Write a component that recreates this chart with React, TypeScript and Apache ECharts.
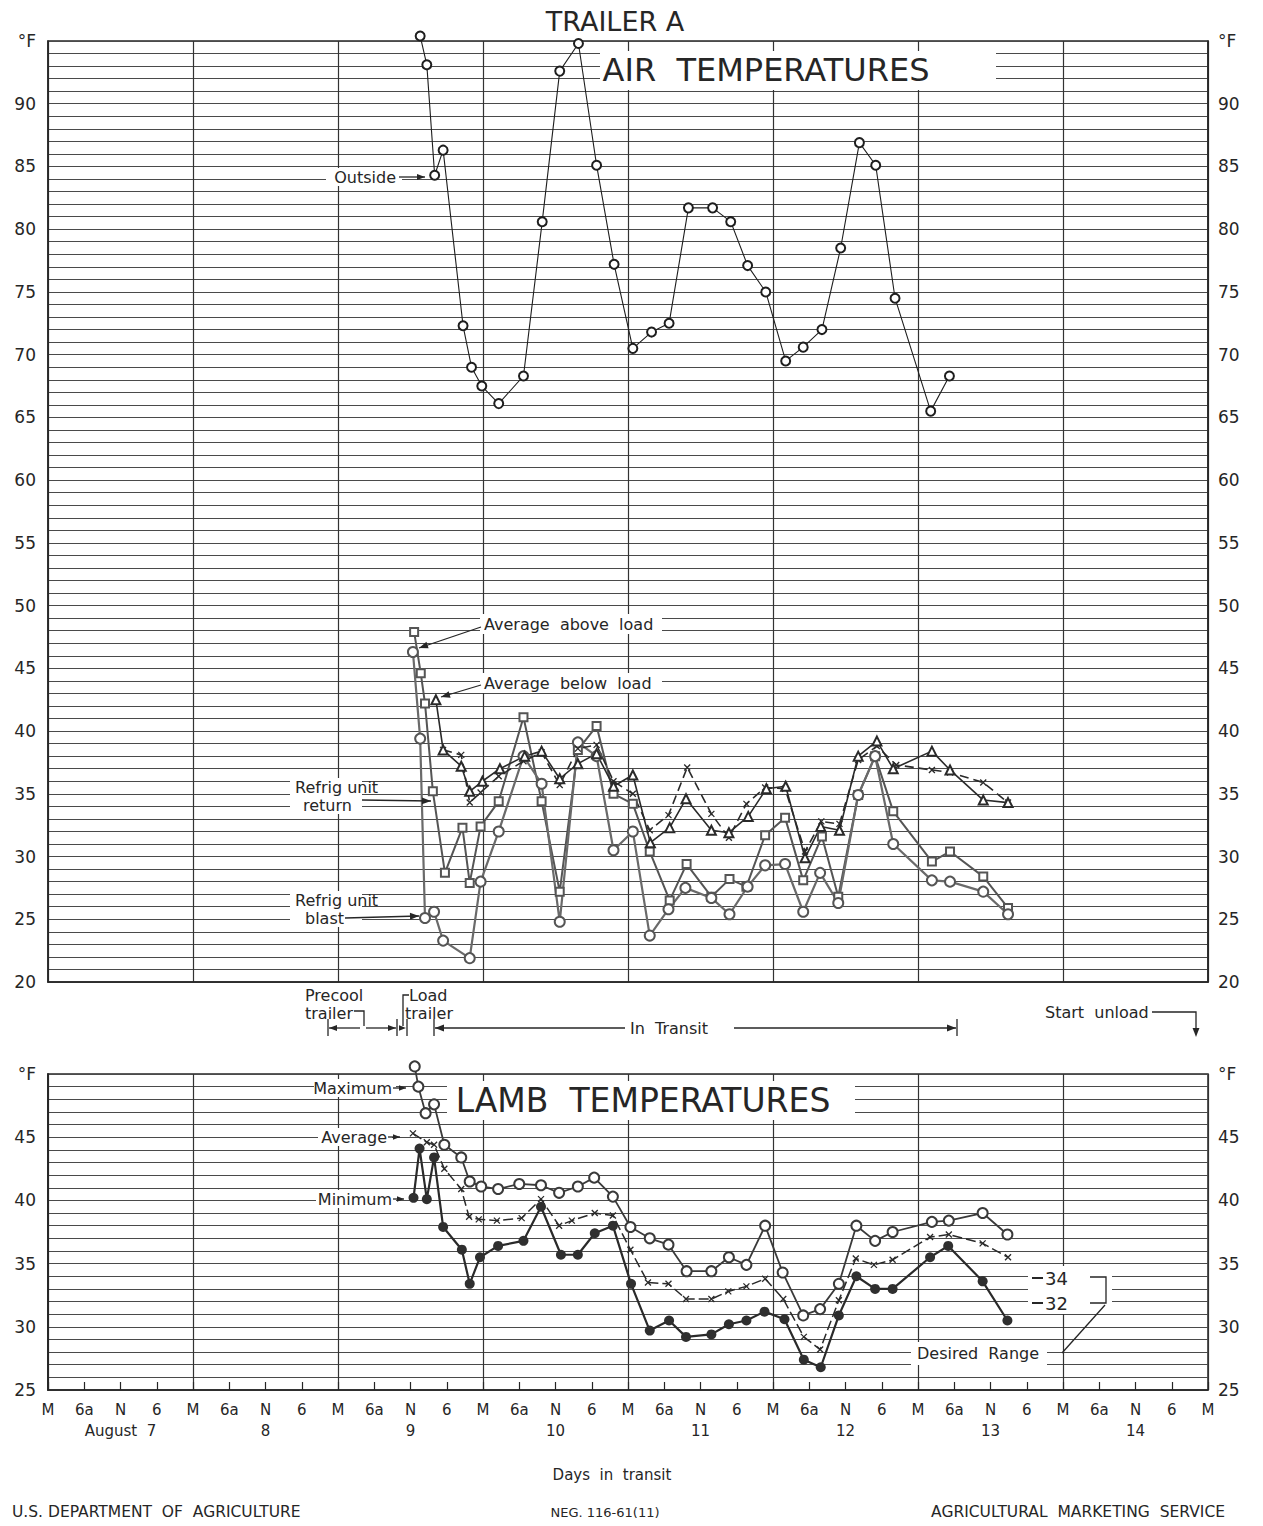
import React, { useEffect, useRef } from "react";
import * as echarts from "echarts";

const FONT = '"DejaVu Sans", "Liberation Sans", sans-serif';
const INK = "#262626";

// Hour-of-day tick labels (every 6 h) and the day names written under noon
const hourLabels = ["M", "6a", "N", "6"];
const dayLabels = ["August  7", "8", "9", "10", "11", "12", "13", "14"];

// All points: [hours after midnight starting August 7, temperature °F]
const outsideAir = [
  [61.6, 95.4], [62.7, 93.1], [64.0, 84.3], [65.4, 86.3], [68.7, 72.3], [70.1, 69.0],
  [71.8, 67.5], [74.6, 66.1], [78.7, 68.3], [81.8, 80.6], [84.7, 92.6], [87.8, 94.8],
  [90.8, 85.1], [93.7, 77.2], [96.8, 70.5], [99.9, 71.8], [102.8, 72.5], [106.0, 81.7],
  [110.0, 81.7], [113.0, 80.6], [115.8, 77.1], [118.8, 75.0], [122.1, 69.5], [125.0, 70.6],
  [128.1, 72.0], [131.2, 78.5], [134.3, 86.9], [137.0, 85.1], [140.2, 74.5], [146.1, 65.5],
  [149.2, 68.3],
];

const avgAboveLoad = [
  [65.4, 38.5], [68.4, 38.1], [69.8, 34.3], [71.6, 35.1], [74.6, 36.4], [78.7, 37.6],
  [81.7, 38.3], [84.7, 35.7], [87.7, 38.6], [90.8, 38.9], [93.6, 36.0], [96.8, 35.0],
  [99.6, 32.1], [102.7, 33.3], [105.8, 37.1], [109.8, 33.4], [112.7, 31.5], [115.6, 34.2],
  [118.7, 35.5], [122.0, 35.4], [125.3, 30.4], [128.0, 32.8], [131.0, 32.6], [134.1, 37.7],
  [137.2, 38.8], [140.4, 37.3], [146.3, 36.9], [149.3, 36.7], [154.8, 35.9], [158.9, 34.3],
];

const avgBelowLoad = [
  [64.2, 42.5], [65.4, 38.5], [68.4, 37.2], [69.8, 35.2], [71.9, 36.0], [74.8, 37.0],
  [78.9, 38.0], [81.7, 38.4], [84.7, 36.2], [87.7, 37.4], [90.8, 38.2], [93.6, 35.6],
  [96.8, 36.5], [99.7, 31.1], [102.9, 32.3], [105.6, 34.6], [109.8, 32.1], [112.7, 31.9],
  [115.9, 33.2], [118.9, 35.4], [122.1, 35.6], [125.3, 29.9], [127.9, 32.4], [131.0, 32.1],
  [134.1, 38.0], [137.2, 39.2], [139.9, 37.0], [146.3, 38.4], [149.3, 36.9], [154.8, 34.5],
  [158.9, 34.3],
];

const refrigReturn = [
  [60.6, 47.9], [61.7, 44.6], [62.4, 42.2], [63.7, 35.2], [65.7, 28.7], [68.6, 32.3],
  [69.8, 27.9], [71.6, 32.4], [74.6, 34.4], [78.7, 41.1], [81.7, 34.4], [84.7, 27.2],
  [87.7, 38.5], [90.8, 40.4], [93.6, 35.0], [96.8, 34.2], [99.6, 30.4], [102.9, 26.5],
  [105.7, 29.4], [109.8, 26.8], [112.8, 28.2], [115.6, 27.6], [118.7, 31.7], [122.0, 33.1],
  [125.0, 28.1], [128.1, 31.6], [130.8, 26.8], [134.1, 34.9], [136.9, 38.0], [139.9, 33.6],
  [146.3, 29.6], [149.3, 30.4], [154.8, 28.4], [158.9, 25.9],
];

const refrigBlast = [
  [60.4, 46.3], [61.6, 39.4], [62.4, 25.1], [63.9, 25.6], [65.4, 23.3], [69.8, 21.9],
  [71.6, 28.0], [74.6, 32.0], [78.7, 38.0], [81.7, 35.8], [84.7, 24.8], [87.7, 39.1],
  [90.8, 38.0], [93.6, 30.5], [96.8, 32.0], [99.6, 23.7], [102.7, 25.8], [105.5, 27.5],
  [109.8, 26.7], [112.8, 25.4], [115.8, 27.6], [118.7, 29.3], [122.0, 29.4], [125.0, 25.6],
  [127.8, 28.7], [130.8, 26.3], [134.1, 34.9], [136.9, 38.0], [139.9, 31.0], [146.3, 28.1],
  [149.3, 28.0], [154.8, 27.2], [158.9, 25.4],
];

const lambMaximum = [
  [60.7, 50.6], [61.3, 49.0], [62.5, 46.9], [63.9, 47.6], [65.6, 44.4], [68.4, 43.4],
  [69.8, 41.5], [71.7, 41.1], [74.5, 40.9], [78.0, 41.3], [81.6, 41.2], [84.6, 40.6],
  [87.7, 41.1], [90.4, 41.8], [93.5, 40.3], [96.4, 37.9], [99.6, 37.0], [102.7, 36.5],
  [105.7, 34.4], [109.8, 34.4], [112.7, 35.5], [115.6, 34.9], [118.7, 38.0], [121.6, 34.3],
  [125.0, 30.9], [127.8, 31.4], [130.9, 33.4], [133.8, 38.0], [136.9, 36.8], [139.8, 37.5],
  [146.3, 38.3], [149.1, 38.4], [154.7, 39.0], [158.8, 37.3],
];

const lambAverage = [
  [60.4, 45.3], [62.7, 44.6], [63.9, 44.4], [65.6, 42.5], [68.4, 40.9], [69.7, 38.7],
  [71.3, 38.5], [74.3, 38.4], [78.4, 38.6], [81.6, 40.1], [84.6, 38.0], [86.7, 38.4],
  [90.5, 39.0], [93.5, 38.8], [96.4, 36.1], [99.3, 33.5], [102.7, 33.4], [105.6, 32.2],
  [109.8, 32.2], [112.6, 32.8], [115.6, 33.2], [118.7, 33.8], [121.7, 32.2], [125.1, 29.2],
  [127.8, 28.2], [130.9, 32.1], [133.7, 35.4], [136.7, 34.9], [139.8, 35.3], [146.0, 37.1],
  [149.1, 37.3], [154.7, 36.6], [158.9, 35.5],
];

const lambMinimum = [
  [60.5, 40.2], [61.5, 44.1], [62.7, 40.1], [63.9, 43.4], [65.4, 37.9], [68.5, 36.1],
  [69.8, 33.4], [71.5, 35.5], [74.5, 36.4], [78.7, 36.8], [81.6, 39.5], [84.9, 35.7],
  [87.7, 35.7], [90.5, 37.4], [93.5, 38.0], [96.5, 33.4], [99.6, 29.7], [102.8, 30.5],
  [105.6, 29.2], [109.8, 29.4], [112.7, 30.2], [115.6, 30.5], [118.6, 31.2], [121.9, 30.6],
  [125.1, 27.4], [127.9, 26.8], [130.9, 30.9], [133.8, 34.0], [136.9, 33.0], [139.8, 33.0],
  [146.0, 35.5], [149.0, 36.4], [154.7, 33.6], [158.8, 30.5],
];

const desiredRange = [34, 32];

const CROSS = "path://M0 0L10 10M10 0L0 10";

type El = Record<string, unknown>;

function text(str: string, x: number, y: number, size = 16, align = "left"): El {
  return {
    type: "text",
    z: 100,
    x,
    y,
    style: {
      text: str,
      font: `${size}px ${FONT}`,
      fill: INK,
      textAlign: align,
      textVerticalAlign: "middle",
    },
  };
}

function blank(x: number, y: number, width: number, height: number): El {
  return { type: "rect", z: 90, shape: { x, y, width, height }, style: { fill: "#fff" } };
}

function seg(x1: number, y1: number, x2: number, y2: number, w = 1.3): El {
  return { type: "line", z: 100, shape: { x1, y1, x2, y2 }, style: { stroke: INK, lineWidth: w } };
}

function poly(points: number[][]): El {
  return { type: "polyline", z: 100, shape: { points }, style: { stroke: INK, lineWidth: 1.3, fill: null } };
}

function head(x1: number, y1: number, x2: number, y2: number, size = 8): El[] {
  const a = Math.atan2(y2 - y1, x2 - x1);
  const bx = x2 - size * Math.cos(a);
  const by = y2 - size * Math.sin(a);
  const w = size * 0.38;
  const px = -Math.sin(a) * w;
  const py = Math.cos(a) * w;
  return [
    {
      type: "polygon",
      z: 100,
      shape: { points: [[x2, y2], [bx + px, by + py], [bx - px, by - py]] },
      style: { fill: INK },
    },
  ];
}

function arrow(x1: number, y1: number, x2: number, y2: number, size = 8): El[] {
  return [seg(x1, y1, x2, y2), ...head(x1, y1, x2, y2, size)];
}

function yLabel(top: number) {
  return (v: number) => (v === top ? "°F" : v % 5 === 0 ? String(v) : "");
}

function yAxisPair(grid: number, min: number, max: number) {
  const common = {
    gridIndex: grid,
    type: "value",
    min,
    max,
    interval: 1,
    axisLine: { show: true, lineStyle: { color: INK, width: 1.5 } },
    axisTick: { show: false },
  };
  return [
    {
      ...common,
      position: "left",
      axisLabel: { formatter: yLabel(max), margin: 12, fontSize: 17, fontFamily: FONT, color: INK, showMaxLabel: true, showMinLabel: true },
      splitLine: { show: true, lineStyle: { color: "#4a4a4a", width: 1.1 } },
    },
    {
      ...common,
      position: "right",
      axisLabel: { formatter: yLabel(max), margin: 10, fontSize: 17, fontFamily: FONT, color: INK, showMaxLabel: true, showMinLabel: true },
      splitLine: { show: false },
    },
  ];
}

function lineSeries(name: string, data: number[][], x: number, y: number, opts: Record<string, unknown>) {
  return {
    name,
    type: "line",
    xAxisIndex: x,
    yAxisIndex: y,
    data,
    clip: false,
    showAllSymbol: true,
    z: 5,
    ...opts,
  };
}

function buildOption() {
  const graphics: El[] = [
    // titles
    text("TRAILER A", 615, 21, 27, "center"),
    blank(600, 51, 396, 39),
    text("AIR  TEMPERATURES", 766, 70, 32, "center"),
    blank(447, 1081, 408, 39),
    text("LAMB  TEMPERATURES", 643, 1100, 33, "center"),

    // air panel callouts
    blank(326, 168, 76, 18),
    text("Outside", 396, 177, 16, "right"),
    ...arrow(399, 177, 425, 177, 8),
    blank(480, 614, 182, 20),
    text("Average  above  load", 484, 624, 16),
    ...arrow(481, 627, 419, 648, 9),
    blank(480, 673, 182, 20),
    text("Average  below  load", 484, 683, 16),
    ...arrow(481, 685, 441, 697, 9),
    blank(290, 778, 72, 36),
    text("Refrig unit", 295, 787, 16),
    text("return", 303, 805, 16),
    ...arrow(362, 800, 431, 801, 9),
    blank(290, 891, 72, 36),
    text("Refrig unit", 295, 900, 16),
    text("blast", 305, 918, 16),
    ...arrow(345, 918, 419, 916, 9),

    // operating periods between panels
    text("Precool", 305, 995, 16),
    text("trailer", 305, 1013, 16),
    poly([[354, 1011], [364, 1011], [364, 1026]]),
    seg(328, 1019, 328, 1036),
    seg(397, 1019, 397, 1036),
    seg(407, 1019, 407, 1036),
    ...arrow(360, 1028, 329, 1028, 8),
    ...arrow(366, 1028, 396, 1028, 8),
    ...head(398, 1028, 406, 1028, 7),
    text("Load", 409, 995, 16),
    text("trailer", 405, 1013, 16),
    poly([[409, 995], [403, 995], [403, 1026]]),
    seg(434, 1019, 434, 1036),
    ...arrow(625, 1028, 435, 1028, 9),
    text("In  Transit", 630, 1028, 16),
    ...arrow(734, 1028, 956, 1028, 9),
    seg(957, 1019, 957, 1036),
    text("Start  unload", 1045, 1012, 16),
    poly([[1152, 1012], [1196, 1012], [1196, 1028]]),
    ...head(1196, 1020, 1196, 1037, 9),

    // lamb panel callouts
    blank(314, 1079, 82, 18),
    text("Maximum", 392, 1088, 16, "right"),
    ...arrow(393, 1088, 406, 1088, 7),
    blank(318, 1128, 74, 18),
    text("Average", 387, 1137, 16, "right"),
    ...arrow(388, 1137, 400, 1137, 7),
    blank(316, 1190, 80, 18),
    text("Minimum", 392, 1199, 16, "right"),
    ...arrow(393, 1199, 404, 1199, 7),

    // desired range bracket
    blank(1028, 1266, 84, 48),
    seg(1032, 1278, 1043, 1278, 2),
    text(String(desiredRange[0]), 1045, 1278, 18),
    seg(1032, 1303, 1043, 1303, 2),
    text(String(desiredRange[1]), 1045, 1303, 18),
    poly([[1090, 1277], [1106, 1277], [1106, 1303], [1090, 1303]]),
    seg(1105, 1305, 1062, 1353),
    blank(911, 1342, 136, 23),
    text("Desired  Range", 917, 1353, 16),

    // axis caption and footer
    text("Days  in  transit", 612, 1475, 15, "center"),
    text("U.S. DEPARTMENT  OF  AGRICULTURE", 12, 1512, 15.5),
    text("NEG. 116-61(11)", 605, 1512, 13, "center"),
    text("AGRICULTURAL  MARKETING  SERVICE", 1225, 1512, 15.5, "right"),
  ];

  const airLine = { color: "#2a2a2a", width: 1.6 };

  return {
    animation: false,
    backgroundColor: "#ffffff",
    textStyle: { fontFamily: FONT },
    grid: [
      { left: 48, top: 41, width: 1160, height: 941, show: true, borderColor: INK, borderWidth: 1.5 },
      { left: 48, top: 1074, width: 1160, height: 316, show: true, borderColor: INK, borderWidth: 1.5 },
    ],
    xAxis: [
      {
        gridIndex: 0,
        type: "value",
        min: 0,
        max: 192,
        interval: 24,
        position: "bottom",
        axisLine: { show: true, lineStyle: { color: INK, width: 1.5 } },
        axisTick: { show: false },
        axisLabel: { show: false },
        splitLine: { show: true, lineStyle: { color: "#333", width: 1.2 } },
      },
      {
        gridIndex: 1,
        type: "value",
        min: 0,
        max: 192,
        interval: 6,
        position: "bottom",
        axisLine: { show: true, lineStyle: { color: INK, width: 1.5 } },
        axisTick: { show: true, inside: true, length: 8, lineStyle: { color: INK, width: 1.2 } },
        axisLabel: {
          margin: 9,
          fontSize: 15,
          lineHeight: 21,
          fontFamily: FONT,
          color: INK,
          showMinLabel: true,
          showMaxLabel: true,
          formatter: (v: number) => {
            const i = Math.round(v / 6);
            const h = hourLabels[i % 4];
            return i % 4 === 2 ? `${h}\n${dayLabels[Math.floor(i / 4)]}` : h;
          },
        },
        splitLine: { show: false },
      },
      {
        gridIndex: 1,
        type: "value",
        min: 0,
        max: 192,
        interval: 24,
        position: "bottom",
        axisLine: { show: false },
        axisTick: { show: false },
        axisLabel: { show: false },
        splitLine: { show: true, lineStyle: { color: "#333", width: 1.2 } },
      },
    ],
    yAxis: [...yAxisPair(0, 20, 95), ...yAxisPair(1, 25, 50)],
    series: [
      lineSeries("Outside", outsideAir, 0, 0, {
        symbol: "emptyCircle",
        symbolSize: 9,
        lineStyle: { color: "#1e1e1e", width: 1.1 },
        itemStyle: { color: "#1e1e1e", borderWidth: 1.2 },
      }),
      lineSeries("Refrig unit return", refrigReturn, 0, 0, {
        symbol: "emptyRect",
        symbolSize: 8,
        lineStyle: { color: "#555", width: 2 },
        itemStyle: { color: "#555", borderWidth: 1.3 },
      }),
      lineSeries("Refrig unit blast", refrigBlast, 0, 0, {
        symbol: "emptyCircle",
        symbolSize: 10,
        lineStyle: { color: "#6a6a6a", width: 2.2 },
        itemStyle: { color: "#555", borderWidth: 1.3 },
      }),
      lineSeries("Average above load", avgAboveLoad, 0, 0, {
        symbol: CROSS,
        symbolSize: 6,
        lineStyle: { ...airLine, type: [9, 5] },
        itemStyle: { color: "#2a2a2a", borderColor: "#2a2a2a", borderWidth: 1.3 },
      }),
      lineSeries("Average below load", avgBelowLoad, 0, 0, {
        symbol: "emptyTriangle",
        symbolSize: 9,
        lineStyle: airLine,
        itemStyle: { color: "#2a2a2a", borderWidth: 1.3 },
      }),
      lineSeries("Maximum", lambMaximum, 1, 2, {
        symbol: "emptyCircle",
        symbolSize: 10,
        lineStyle: { color: "#3a3a3a", width: 1.8 },
        itemStyle: { color: "#3a3a3a", borderWidth: 1.3 },
      }),
      lineSeries("Average", lambAverage, 1, 2, {
        symbol: CROSS,
        symbolSize: 6,
        lineStyle: { color: "#2a2a2a", width: 1.5, type: [10, 4] },
        itemStyle: { color: "#2a2a2a", borderColor: "#2a2a2a", borderWidth: 1.3 },
      }),
      lineSeries("Minimum", lambMinimum, 1, 2, {
        symbol: "circle",
        symbolSize: 10,
        lineStyle: { color: "#2a2a2a", width: 2.2 },
        itemStyle: { color: "#2f2f2f" },
      }),
    ],
    graphic: { elements: graphics },
  };
}

export default function App() {
  const ref = useRef<HTMLDivElement>(null);
  useEffect(() => {
    if (!ref.current) return;
    const chart = echarts.init(ref.current, null, { renderer: "svg" });
    chart.setOption(buildOption() as echarts.EChartsCoreOption);
    return () => chart.dispose();
  }, []);
  return (
    <div
      ref={ref}
      style={{ position: "absolute", left: 0, top: 0, width: 1263, height: 1526, background: "#fff" }}
    />
  );
}
